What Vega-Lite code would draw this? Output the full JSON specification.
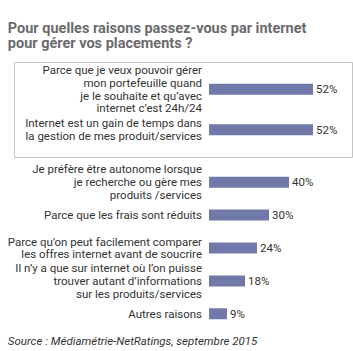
{
  "$schema": "https://vega.github.io/schema/vega-lite/v6.json",
  "padding": {"left": 7, "top": 20, "right": 0, "bottom": 0},
  "background": "white",
  "title": {
    "text": ["Pour quelles raisons passez-vous par internet", "pour gérer vos placements ?"],
    "anchor": "start",
    "font": "Roboto",
    "fontSize": 14.5,
    "fontWeight": "bold",
    "color": "#6b6b6e",
    "lineHeight": 15.5,
    "offset": 10
  },
  "spacing": 5,
  "config": {
    "view": {"stroke": null},
    "text": {"font": "Roboto", "fontSize": 11.5, "color": "#333333"}
  },
  "vconcat": [
    {
      "width": 338,
      "height": 95,
      "view": {"stroke": "#c4c4c4", "strokeWidth": 1},
      "data": {"values": [
        {"raison": "Parce que je veux pouvoir gérer\nmon portefeuille quand\nje le souhaite et qu’avec\ninternet c’est 24h/24", "pct": 0.52, "ordre": 1},
        {"raison": "Internet est un gain de temps dans\nla gestion de mes produit/services", "pct": 0.52, "ordre": 2}
      ]},
      "encoding": {
        "y": {"field": "ordre", "type": "ordinal", "axis": null,
              "scale": {"type": "point", "padding": 0.67}}
      },
      "layer": [
        {"mark": {"type": "bar", "height": 11, "color": "#7079a9"},
         "encoding": {"x": {"field": "pct", "type": "quantitative", "axis": null,
                            "scale": {"domain": [0, 0.52], "range": [195, 305]}}}},
        {"transform": [{"filter": "length(split(datum.raison, '\\n')) == 4"}],
         "mark": {"type": "text", "align": "right", "baseline": "middle", "lineBreak": "\n", "lineHeight": 12.8, "dx": -7, "dy": -18.2},
         "encoding": {"x": {"datum": 0, "type": "quantitative"}, "text": {"field": "raison"}}},
        {"transform": [{"filter": "length(split(datum.raison, '\\n')) == 2"}],
         "mark": {"type": "text", "align": "right", "baseline": "middle", "lineBreak": "\n", "lineHeight": 12.8, "dx": -7, "dy": -5.4},
         "encoding": {"x": {"datum": 0, "type": "quantitative"}, "text": {"field": "raison"}}},
        {"mark": {"type": "text", "align": "left", "baseline": "middle", "dx": 3, "dy": 1},
         "encoding": {"x": {"field": "pct", "type": "quantitative"}, "text": {"field": "pct", "type": "quantitative", "format": ".0%"}}}
      ]
    },
    {
      "width": 338,
      "height": 170,
      "title": {
        "text": "Source : Médiamétrie-NetRatings, septembre 2015",
        "orient": "bottom",
        "anchor": "start",
        "font": "Roboto",
        "fontSize": 11.5,
        "fontStyle": "italic",
        "fontWeight": "normal",
        "color": "#333333",
        "offset": 3
      },
      "data": {"values": [
        {"raison": "Je préfère être autonome lorsque\nje recherche ou gère mes\nproduits /services", "pct": 0.40, "ordre": 3},
        {"raison": "Parce que les frais sont réduits", "pct": 0.30, "ordre": 4},
        {"raison": "Parce qu’on peut facilement comparer\nles offres internet avant de soucrire", "pct": 0.24, "ordre": 5},
        {"raison": "Il n’y a que sur internet où l’on puisse\ntrouver autant d’informations\nsur les produits/services", "pct": 0.18, "ordre": 6},
        {"raison": "Autres raisons", "pct": 0.09, "ordre": 7}
      ]},
      "encoding": {
        "y": {"field": "ordre", "type": "ordinal", "axis": null,
              "scale": {"type": "point", "padding": 0.585}}
      },
      "layer": [
        {"mark": {"type": "bar", "height": 11, "color": "#7079a9"},
         "encoding": {"x": {"field": "pct", "type": "quantitative", "axis": null,
                            "scale": {"domain": [0, 0.52], "range": [195, 305]}}}},
        {"transform": [{"filter": "length(split(datum.raison, '\\n')) == 3"}],
         "mark": {"type": "text", "align": "right", "baseline": "middle", "lineBreak": "\n", "lineHeight": 12.8, "dx": -7, "dy": -11.8},
         "encoding": {"x": {"datum": 0, "type": "quantitative"}, "text": {"field": "raison"}}},
        {"transform": [{"filter": "length(split(datum.raison, '\\n')) == 2"}],
         "mark": {"type": "text", "align": "right", "baseline": "middle", "lineBreak": "\n", "lineHeight": 12.8, "dx": -7, "dy": -5.4},
         "encoding": {"x": {"datum": 0, "type": "quantitative"}, "text": {"field": "raison"}}},
        {"transform": [{"filter": "length(split(datum.raison, '\\n')) == 1"}],
         "mark": {"type": "text", "align": "right", "baseline": "middle", "dx": -7, "dy": 1},
         "encoding": {"x": {"datum": 0, "type": "quantitative"}, "text": {"field": "raison"}}},
        {"mark": {"type": "text", "align": "left", "baseline": "middle", "dx": 3, "dy": 1},
         "encoding": {"x": {"field": "pct", "type": "quantitative"}, "text": {"field": "pct", "type": "quantitative", "format": ".0%"}}}
      ]
    }
  ]
}
